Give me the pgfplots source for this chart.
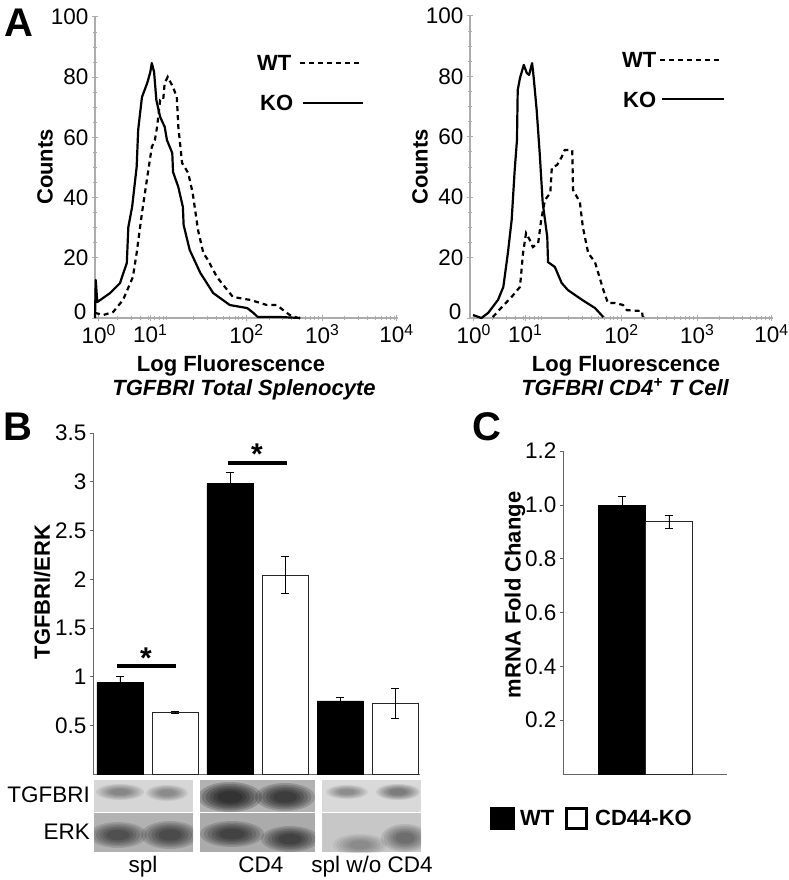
\documentclass[border=0pt]{standalone}
\usepackage{fontspec}
\setmainfont{Liberation Sans}
\usepackage{pgfplots}
\pgfplotsset{compat=1.18}

\newcommand\fs{\fontsize{22.5}{26}\selectfont}
\newcommand\fb{\fontsize{22}{26}\selectfont\bfseries}
% soft blot band: x, y, rx, ry, opacity of each layer
\newcommand\band[5]{%
  \foreach \s in {1,0.88,0.76,0.64,0.52,0.4}{%
    \fill[black, opacity=#5] (#1,#2) ellipse ({\s*#3} and {\s*#4});}}

\pgfplotsset{
  facs/.style={
    scale only axis, anchor=south west, clip=false,
    width=303pt, height=301pt,
    xmin=0, xmax=4, ymin=0, ymax=100,
    axis lines=left, axis line style={-, gray!65, line width=1.6pt},
    xtick={0.05,0.73,2.0,3.0,3.98},
    xticklabels={10\textsuperscript{0},10\textsuperscript{1},10\textsuperscript{2},10\textsuperscript{3},10\textsuperscript{4}},
    minor xtick={0.3,0.48,0.6,0.7,0.78,0.85,0.9,0.95,
                 1.3,1.48,1.6,1.7,1.78,1.85,1.9,1.95,
                 2.3,2.48,2.6,2.7,2.78,2.85,2.9,2.95,
                 3.3,3.48,3.6,3.7,3.78,3.85,3.9,3.95},
    ytick={20,40,60,80,100}, minor y tick num=3,
    extra y ticks={0},
    extra y tick style={yticklabel style={yshift=6pt, xshift=-2pt}},
    tick style={gray!65, line width=1pt}, tick align=center,
    major tick length=6pt, minor tick length=4pt,
    ticklabel style={font=\fs},
    /pgf/number format/assume math mode=true,
  },
  ko/.style={black, line width=2.2pt, line join=round},
  wt/.style={black, line width=2.2pt, dash pattern=on 5pt off 4pt},
  barax/.style={
    scale only axis, anchor=south west, clip=false,
    axis lines=left, axis line style={-, gray!80!black, line width=0.8pt},
    xtick=\empty, ymin=0,
    tick style={gray!80!black, line width=0.6pt}, tick align=outside,
    major tick length=3pt,
    ticklabel style={font=\fs},
    /pgf/number format/assume math mode=true,
    ybar, bar shift=0pt,
    error bars/y dir=both, error bars/y explicit,
    error bars/error bar style={black, line width=0.8pt},
    error bars/error mark options={black, line width=0.8pt, mark size=4pt, rotate=90},
  },
}

\begin{document}
\begin{tikzpicture}
\path[use as bounding box] (0pt,0pt) rectangle (788pt,-880pt);

% ---- A, total splenocyte
\begin{axis}[facs, at={(95pt,-318pt)}]
\addplot[wt] coordinates {
(0,1.7) (0.11,1.0) (0.24,2.0) (0.37,6.0) (0.50,13.6) (0.55,21.6) (0.62,34.9)
(0.69,46.8) (0.75,56.8) (0.79,59.1) (0.82,63.5) (0.86,72.4) (0.90,72.4)
(0.92,78.1) (0.96,80.1) (1.03,76.7) (1.08,73.4) (1.10,63.5) (1.15,51.5)
(1.23,48.2) (1.29,41.5) (1.36,29.2) (1.43,21.6) (1.49,19.3) (1.61,13.6)
(1.82,7.0) (2.05,6.0) (2.27,4.3) (2.40,4.3) (2.48,2.7) (2.57,1.0) (2.68,0)};
\addplot[ko] coordinates {
(0,0) (0.01,12.6) (0.03,5.3) (0.20,8.3) (0.33,11.6) (0.42,18.3) (0.44,30.2)
(0.49,36.9) (0.55,50.2) (0.57,62.5) (0.62,73.4) (0.69,78.1) (0.73,81.7)
(0.75,84.7) (0.78,81.7) (0.81,72.4) (0.86,66.8) (0.92,63.5) (0.95,59.1)
(1.02,54.8) (1.03,48.5) (1.10,43.5) (1.16,36.9) (1.17,30.9) (1.25,22.6)
(1.39,15.0) (1.56,8.3) (1.78,4.3) (2.01,3.3) (2.09,1.7) (2.15,0.3) (2.47,0.3) (2.71,0)};
\end{axis}

% ---- A, CD4+ T cell
\begin{axis}[facs, at={(470pt,-318pt)}, height=302pt]
\addplot[wt] coordinates {
(0.30,0.3) (0.42,3.6) (0.55,7.0) (0.66,10.3) (0.70,21.5) (0.74,28.1) (0.79,25.8)
(0.83,23.5) (0.90,24.8) (0.94,32.5) (0.99,39.1) (1.06,41.4) (1.08,49.7)
(1.15,50.7) (1.21,53.3) (1.25,55.6) (1.35,55.6) (1.36,42.4) (1.45,38.4)
(1.49,30.1) (1.56,21.5) (1.65,18.5) (1.76,9.3) (1.82,5.0) (1.91,5.0)
(2.02,4.3) (2.07,2.6) (2.27,2.3) (2.28,0.3)};
\addplot[ko] coordinates {
(0.04,1.0) (0.15,0) (0.24,1.7) (0.37,6.0) (0.44,10.3) (0.50,21.5) (0.55,32.5)
(0.59,49.0) (0.62,58.9) (0.63,75.5) (0.66,79.5) (0.71,83.8) (0.75,81.1)
(0.78,80.5) (0.82,84.4) (0.84,79.8) (0.88,68.9) (0.92,54.6) (0.96,38.1)
(1.02,26.8) (1.03,18.5) (1.12,16.9) (1.21,11.6) (1.29,9.3) (1.48,6.0)
(1.65,3.3) (1.76,0.3)};
\end{axis}

% ---- B, TGFBRI/ERK
\begin{axis}[barax, at={(93pt,-774pt)}, width=327pt, height=341pt,
  xmin=-0.49, xmax=5.45, ymax=3.5, bar width=0.84,
  ytick={0.5,1,1.5,2,2.5,3,3.5}]
\addplot[fill=black, draw=black] coordinates {
(0,0.94) +- (0,0.065)
(2,2.98) +- (0,0.12)
(4,0.75) +- (0,0.035)};
\addplot[fill=white, draw=black!85, line width=0.8pt] coordinates {
(1,0.63) +- (0,0.01)
(3,2.04) +- (0,0.19)
(5,0.726) +- (0,0.155)};
\draw[line width=4pt] (axis cs:-0.05,1.11) -- (axis cs:1.02,1.11);
\draw[line width=4pt] (axis cs:1.96,3.19) -- (axis cs:3.04,3.19);
\node[font=\fontsize{30}{30}\selectfont\bfseries, inner sep=0] at (axis cs:0.47,1.19) {*};
\node[font=\fontsize{30}{30}\selectfont\bfseries, inner sep=0] at (axis cs:2.49,3.28) {*};
\end{axis}

% ---- C, mRNA
\begin{axis}[barax, at={(563pt,-774pt)}, width=164pt, height=323pt,
  xmin=-0.26, xmax=3.24, ymax=1.2, bar width=1,
  ytick={0.2,0.4,0.6,0.8,1.0,1.2},
  yticklabel style={/pgf/number format/.cd, fixed, fixed zerofill, precision=1}]
\addplot[fill=black, draw=black] coordinates {(1,1.0) +- (0,0.03)};
\addplot[fill=white, draw=black!85, line width=0.8pt] coordinates {(2,0.937) +- (0,0.023)};
\end{axis}

% ---- labels, legends, blot
\begin{scope}[x=1pt, y=-1pt]
\node[font=\fontsize{40}{40}\selectfont\bfseries, inner sep=0] at (19,22.5) {A};
\node[font=\fontsize{40}{40}\selectfont\bfseries, inner sep=0] at (18,427) {B};
\node[font=\fontsize{40}{40}\selectfont\bfseries, inner sep=0] at (487,427) {C};

% A texts
\node[font=\fb, rotate=90, inner sep=0] at (45,167) {Counts};
\node[font=\fb, rotate=90, inner sep=0] at (420,167) {Counts};
\node[font=\fb, anchor=base, inner sep=0] at (231,371) {Log Fluorescence};
\node[font=\fb\itshape, anchor=base, inner sep=0] at (244,395) {TGFBRI Total Splenocyte};
\node[font=\fb, anchor=base, inner sep=0] at (626,371) {Log Fluorescence};
\node[font=\fb\itshape, anchor=base, inner sep=0] at (625,395) {TGFBRI CD4\textsuperscript{+} T Cell};
% A legends
\node[font=\fb, anchor=west, inner sep=0] at (257,63) {WT};
\draw[black, line width=2.4pt, dash pattern=on 5pt off 4pt] (300,63) -- (362,63);
\node[font=\fb, anchor=west, inner sep=0] at (260,103) {KO};
\draw[black, line width=2.4pt] (303,103) -- (363,103);
\node[font=\fb, anchor=west, inner sep=0] at (622,60) {WT};
\draw[black, line width=2.4pt, dash pattern=on 5pt off 4pt] (660,60) -- (722,60);
\node[font=\fb, anchor=west, inner sep=0] at (623,100) {KO};
\draw[black, line width=2.4pt] (662,99) -- (724,99);

% B texts
\node[font=\fb, rotate=90, inner sep=0] at (42,592) {TGFBRI/ERK};
\node[font=\fs, anchor=east, inner sep=0] at (90,795) {TGFBRI};
\node[font=\fs, anchor=east, inner sep=0] at (90,832) {ERK};
\node[font=\fs, anchor=base, inner sep=0] at (143,872) {spl};
\node[font=\fs, anchor=base, inner sep=0] at (261,872) {CD4};
\node[font=\fs, anchor=base, inner sep=0] at (372,872) {spl w/o CD4};

% blot: TGFBRI row
\begin{scope}
\clip (94,780) rectangle (193,812);
\fill[black!16] (94,780) rectangle (193,812);
\band{120}{792}{24}{8}{0.07}
\band{167}{793}{21}{8}{0.065}
\end{scope}
\begin{scope}
\clip (200,780) rectangle (315,812);
\fill[black!30] (200,780) rectangle (315,812);
\band{230}{797}{32}{15}{0.18}
\band{285}{797}{30}{14}{0.16}
\end{scope}
\begin{scope}
\clip (322,780) rectangle (421,812);
\fill[black!15] (322,780) rectangle (421,812);
\band{347}{792}{21}{7}{0.065}
\band{398}{792}{22}{8}{0.085}
\end{scope}
% blot: ERK row
\begin{scope}
\clip (94,813) rectangle (193,852);
\fill[black!30] (94,813) rectangle (193,852);
\band{118}{835}{29}{13}{0.12}
\band{170}{835}{29}{14}{0.13}
\end{scope}
\begin{scope}
\clip (200,813) rectangle (315,852);
\fill[black!33] (200,813) rectangle (315,852);
\band{232}{834}{32}{13}{0.14}
\band{290}{839}{29}{13}{0.14}
\end{scope}
\begin{scope}
\clip (322,813) rectangle (421,852);
\fill[black!22] (322,813) rectangle (421,852);
\band{360}{845}{27}{11}{0.055}
\band{405}{838}{24}{14}{0.09}
\end{scope}

% C texts
\node[font=\fb, rotate=90, inner sep=0] at (515,595) {mRNA Fold Change};
\fill[black] (490,807) rectangle (515,830);
\node[font=\fb, anchor=west, inner sep=0] at (520,818) {WT};
\draw[black, line width=2.6pt] (566.3,808.3) rectangle (586.7,828.7);
\node[font=\fb, anchor=west, inner sep=0] at (595,818) {CD44-KO};
\end{scope}
\end{tikzpicture}
\end{document}
